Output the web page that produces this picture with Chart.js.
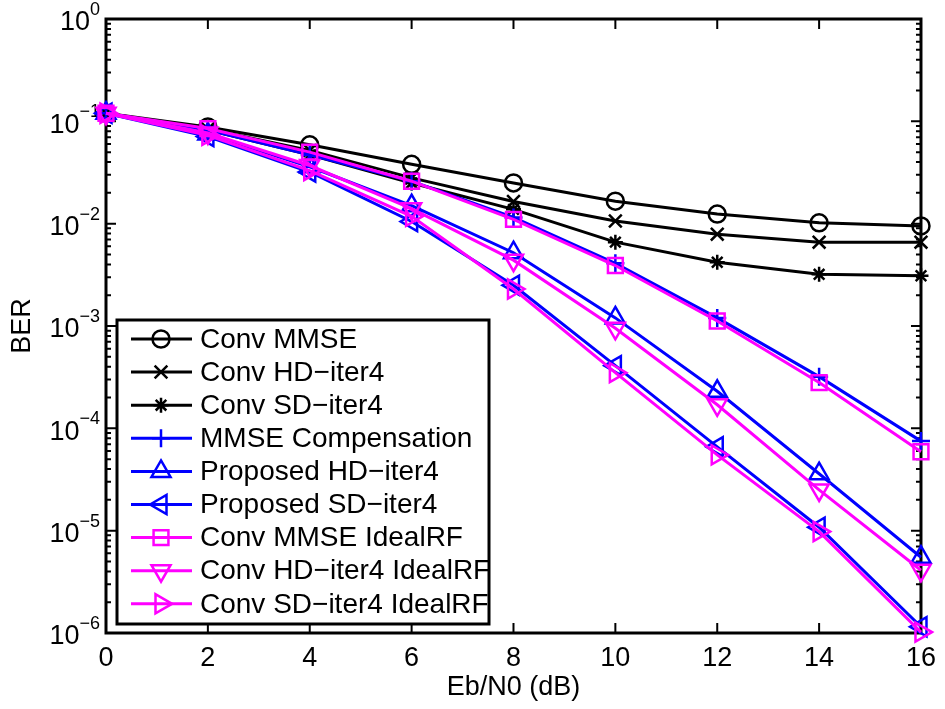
<!DOCTYPE html>
<html>
<head>
<meta charset="utf-8">
<script src="https://cdn.jsdelivr.net/npm/chart.js@4.4.1/dist/chart.umd.min.js"></script>
<style>
  html, body { margin: 0; padding: 0; background: #fff; }
</style>
</head>
<body>
<canvas id="berChart" width="945" height="709"></canvas>
<script>
// Eb/N0 points (dB)
var snrDb = [0, 2, 4, 6, 8, 10, 12, 14, 16];

// BER curves
var berConvMmse      = [0.12, 0.088, 0.059, 0.038, 0.025, 0.0166, 0.0124, 0.0102, 0.0095];
var berConvHd        = [0.12, 0.084, 0.052, 0.028, 0.0165, 0.0106, 0.0079, 0.0066, 0.0066];
var berConvSd        = [0.12, 0.082, 0.047, 0.025, 0.0138, 0.0066, 0.0042, 0.0032, 0.0031];
var berMmseComp      = [0.12, 0.082, 0.047, 0.026, 0.0115, 0.0041, 0.0012, 0.00032, 0.000075];
var berPropHd        = [0.12, 0.075, 0.036, 0.015, 0.0052, 0.0012, 0.00023, 0.000036, 0.0000055];
var berPropSd        = [0.12, 0.071, 0.032, 0.0105, 0.0025, 0.00041, 0.000066, 0.0000108, 0.00000115];
var berConvMmseIdeal = [0.12, 0.085, 0.05, 0.026, 0.011, 0.0039, 0.00112, 0.00028, 0.000059];
var berConvHdIdeal   = [0.12, 0.077, 0.037, 0.014, 0.0044, 0.00095, 0.00017, 0.000025, 0.0000041];
var berConvSdIdeal   = [0.12, 0.073, 0.033, 0.0118, 0.0023, 0.00035, 0.000055, 0.0000098, 0.00000102];

var seriesNames = [
  'Conv MMSE',
  'Conv HD\u2212iter4',
  'Conv SD\u2212iter4',
  'MMSE Compensation',
  'Proposed HD\u2212iter4',
  'Proposed SD\u2212iter4',
  'Conv MMSE IdealRF',
  'Conv HD\u2212iter4 IdealRF',
  'Conv SD\u2212iter4 IdealRF'
];

var xTickValues = [0, 2, 4, 6, 8, 10, 12, 14, 16];
var yTickExponents = [0, -1, -2, -3, -4, -5, -6];

var FONT = '"Liberation Sans", Arial, Helvetica, sans-serif';

// marker styles (matlab-ish: o, x, *, +, ^, <, s, v, >)
var seriesValues = [berConvMmse, berConvHd, berConvSd, berMmseComp, berPropHd,
                    berPropSd, berConvMmseIdeal, berConvHdIdeal, berConvSdIdeal];
var seriesColors = ['#000000', '#000000', '#000000', '#0000ff', '#0000ff',
                    '#0000ff', '#ff00ff', '#ff00ff', '#ff00ff'];
var seriesMarkers = ['circle', 'crossRot', 'star', 'cross', 'triangle',
                     'triangle', 'rect', 'triangle', 'triangle'];
var seriesRotation = [0, 0, 0, 0, 0, 270, 0, 180, 90];
var seriesRadius = [8.5, 9, 7.5, 9, 11, 11, 10.5, 11, 11];

var datasets = seriesValues.map(function (vals, i) {
  return {
    label: seriesNames[i],
    data: snrDb.map(function (x, j) { return { x: x, y: vals[j] }; }),
    borderColor: seriesColors[i],
    borderWidth: 3,
    pointStyle: seriesMarkers[i],
    pointRotation: seriesRotation[i],
    pointRadius: seriesRadius[i],
    pointBorderWidth: 2.5,
    pointBorderColor: seriesColors[i],
    pointBackgroundColor: 'rgba(0,0,0,0)',
    tension: 0,
    clip: false,
    order: seriesValues.length - i // later series drawn on top, like matlab
  };
});

var matlabAxes = {
  id: 'matlabAxes',
  beforeDatasetsDraw: function (chart) {
    var ctx = chart.ctx, a = chart.chartArea;
    var xs = chart.scales.x, ys = chart.scales.y;
    ctx.save();
    ctx.strokeStyle = '#000';
    ctx.lineWidth = 2;
    ctx.beginPath();
    xTickValues.forEach(function (v) {
      var px = xs.getPixelForValue(v);
      ctx.moveTo(px, a.bottom); ctx.lineTo(px, a.bottom - 10);
      ctx.moveTo(px, a.top); ctx.lineTo(px, a.top + 10);
    });
    yTickExponents.forEach(function (e) {
      for (var k = 1; k <= 9; k++) {
        var v = k * Math.pow(10, e);
        if (v > 1.0001) break;
        var py = ys.getPixelForValue(v);
        var len = k === 1 ? 10 : 5;
        ctx.moveTo(a.left, py); ctx.lineTo(a.left + len, py);
        ctx.moveTo(a.right, py); ctx.lineTo(a.right - len, py);
      }
    });
    ctx.stroke();

    ctx.lineWidth = 3;
    ctx.strokeRect(a.left, a.top, a.right - a.left, a.bottom - a.top);

    // y tick labels 10^n
    ctx.fillStyle = '#000';
    ctx.textBaseline = 'middle';
    ctx.textAlign = 'right';
    yTickExponents.forEach(function (e) {
      var py = ys.getPixelForValue(Math.pow(10, e));
      var expTxt = String(e).replace('-', '\u2212');
      ctx.font = '18px ' + FONT;
      var w = ctx.measureText(expTxt).width;
      ctx.fillText(expTxt, 100, py - 9);
      ctx.font = '27px ' + FONT;
      ctx.fillText('10', 100 - w, py + 4);
    });
    ctx.restore();
  },
  afterDraw: function (chart) {
    var ctx = chart.ctx;
    var bx = 117, by = 320, bw = 372, bh = 304;
    ctx.save();
    ctx.fillStyle = '#fff';
    ctx.fillRect(bx, by, bw, bh);
    ctx.strokeStyle = '#000';
    ctx.lineWidth = 3;
    ctx.strokeRect(bx, by, bw, bh);

    chart.data.datasets.forEach(function (ds, i) {
      var y = 339 + i * 33.1;
      ctx.strokeStyle = ds.borderColor;
      ctx.lineWidth = 3;
      ctx.beginPath();
      ctx.moveTo(131, y); ctx.lineTo(192, y);
      ctx.stroke();
      ctx.lineWidth = 2.5;
      ctx.fillStyle = 'rgba(0,0,0,0)';
      Chart.helpers.drawPoint(ctx, {
        pointStyle: ds.pointStyle,
        rotation: ds.pointRotation,
        radius: ds.pointRadius,
        borderWidth: 2.5
      }, 161, y);
      ctx.fillStyle = '#000';
      ctx.font = '28px ' + FONT;
      ctx.textAlign = 'left';
      ctx.textBaseline = 'middle';
      ctx.fillText(ds.label, 200, y + 1);
    });
    ctx.restore();
  }
};

var ctx = document.getElementById('berChart').getContext('2d');
var chart = new Chart(ctx, {
  type: 'line',
  data: { datasets: datasets },
  options: {
    responsive: false,
    animation: false,
    devicePixelRatio: 1,
    layout: { padding: { left: 0, top: 19, right: 18, bottom: 0 } },
    plugins: {
      legend: { display: false },
      tooltip: { enabled: false }
    },
    scales: {
      x: {
        type: 'linear',
        min: 0,
        max: 16,
        grid: { display: false, drawTicks: false },
        border: { display: false },
        ticks: {
          stepSize: 2,
          padding: 9,
          color: '#000',
          maxRotation: 0,
          font: { family: FONT, size: 27 }
        },
        title: {
          display: true,
          text: 'Eb/N0 (dB)',
          color: '#000',
          font: { family: FONT, size: 27 },
          padding: { top: 0, bottom: 5 }
        },
        afterFit: function (scale) { scale.height = 76; }
      },
      y: {
        type: 'logarithmic',
        min: 1e-6,
        max: 1,
        grid: { display: false, drawTicks: false },
        border: { display: false },
        ticks: { display: false },
        title: {
          display: true,
          text: 'BER',
          color: '#000',
          font: { family: FONT, size: 27 },
          padding: { top: 6, bottom: 0 }
        },
        afterFit: function (scale) { scale.width = 106; }
      }
    }
  },
  plugins: [matlabAxes]
});
</script>
</body>
</html>
